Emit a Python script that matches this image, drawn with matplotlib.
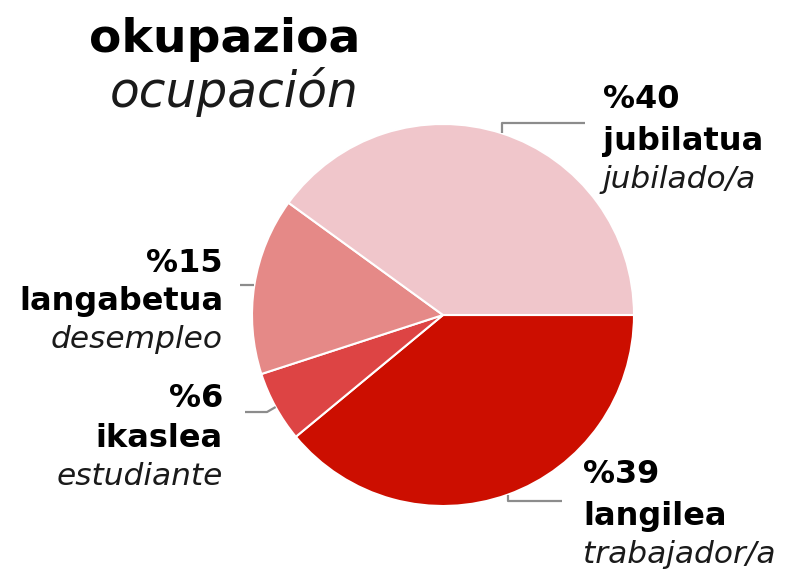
#!/usr/bin/env python3

import numpy as np
import matplotlib
matplotlib.use('Agg')
import matplotlib.pyplot as plt

# data
labels_eu = ['langilea', 'ikaslea', 'langabetua', 'jubilatua']
labels_es = ['trabajador/a', 'estudiante', 'desempleo', 'jubilado/a']
percents = [39, 6, 15, 40]
colors = ['#cc0e00', '#dd4444', '#e58987', '#f0c6cb']

W, H = 787, 573
CX, CY, R = 443, 315, 191


def y(v):
    # image pixel row -> axes y
    return H - v


fig = plt.figure(figsize=(W / 100, H / 100), dpi=100)
ax = fig.add_axes([0, 0, 1, 1])

wedges, _ = ax.pie(percents, colors=colors, startangle=0, counterclock=False,
                   center=(CX, y(CY)), radius=R,
                   wedgeprops=dict(edgecolor='white', linewidth=1.5))
ax.set_xlim(0, W)
ax.set_ylim(0, H)
ax.set_aspect('equal')
ax.axis('off')

bold = dict(family='DejaVu Sans', fontweight='bold', fontsize=23, color='black')
ital = dict(family='DejaVu Sans', style='italic', fontsize=22.5, color='#1a1a1a')

# label layout: (text x, baselines, ha)
layout = {
    'langilea': (583, [483, 525, 563], 'left'),
    'ikaslea': (223, [407, 447, 485], 'right'),
    'langabetua': (223, [272, 310, 348], 'right'),
    'jubilatua': (603, [108, 150, 188], 'left'),
}

for w, eu, es, pct in zip(wedges, labels_eu, labels_es, percents):
    mid = np.deg2rad((w.theta1 + w.theta2) / 2)
    ex = CX + R * np.cos(mid)
    ey = CY - R * np.sin(mid)
    if eu == 'jubilatua':
        xs, ys = [ex, ex, 585], [ey, 123, 123]
    elif eu == 'langilea':
        xs, ys = [ex, ex, 562], [ey, 501, 501]
    elif eu == 'langabetua':
        xs, ys = [ex, 240], [ey, ey]
    else:
        xs, ys = [ex, 267, 245], [ey, ey + 5, ey + 5]
    ax.plot(xs, [y(v) for v in ys], color='#8c8c8c', lw=1.6,
            solid_capstyle='butt')

    tx, bl, ha = layout[eu]
    ax.text(tx, y(bl[0]), f'%{pct}', ha=ha, va='baseline', **bold)
    ax.text(tx, y(bl[1]), eu, ha=ha, va='baseline', **bold)
    ax.text(tx, y(bl[2]), es, ha=ha, va='baseline', **ital)

ax.text(360, y(52), 'okupazioa', ha='right', va='baseline',
        family='DejaVu Sans', fontweight='bold', fontsize=34, color='black')
ax.text(359, y(107), 'ocupación', ha='right', va='baseline',
        family='DejaVu Sans', style='italic', fontsize=35,
        color='#1a1a1a')

fig.savefig('out.png', dpi=100)
